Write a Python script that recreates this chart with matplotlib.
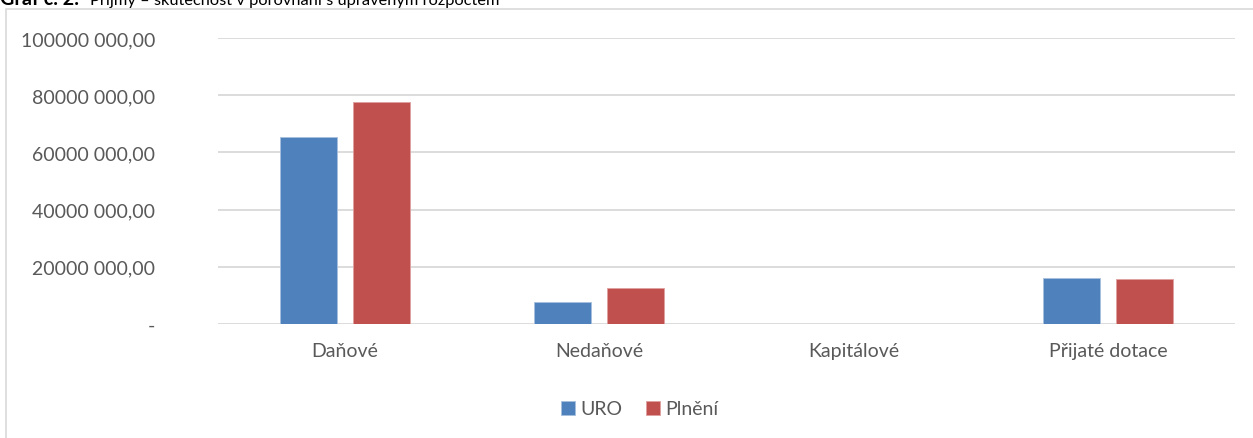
import matplotlib

matplotlib.use("Agg")
import matplotlib.pyplot as plt
import numpy as np
from matplotlib.patches import Rectangle

plt.rcParams['font.family'] = ['Lato', 'DejaVu Sans']

# Data
categories = ["Daňové", "Nedaňové", "Kapitálové", "Přijaté dotace"]
uro = [65400000, 7700000, 0, 16100000]
plneni = [77600000, 12600000, 0, 15700000]
yticks = [0, 20000000, 40000000, 60000000, 80000000, 100000000]
ytick_labels = ["-", "20000 000,00", "40000 000,00", "60000 000,00",
                "80000 000,00", "100000 000,00"]

blue = "#4F81BD"
red = "#C0504D"
txt = "#595959"
grid = "#D9D9D9"

W, H = 1253, 439
fig = plt.figure(figsize=(W / 100, H / 100), dpi=100)
r = fig.canvas.get_renderer()

# chart frame (Excel chart area border)
fig.patches.append(Rectangle((6 / W, -0.1), 1.2, 1.1 - 10 / H, transform=fig.transFigure,
                             fill=False, edgecolor=grid, linewidth=1.2))


def fit_text(xpix, s, target_w, **kw):
    # size a text so that it spans target_w pixels, like in the reference
    t = fig.text(xpix / W, 1 - 5 / H, s, fontsize=12, color="black",
                 va="baseline", ha="left", **kw)
    w = t.get_window_extent(r).width
    t.set_fontsize(12 * target_w / w)
    return t


# title, cut off at the top like in the reference
fit_text(0, "Graf č. 2:", 79, fontweight="bold")
fit_text(90, "Příjmy – skutečnost v porovnání s upraveným rozpočtem", 407)

ax = fig.add_axes([218 / W, 1 - 325 / H, (1235 - 218) / W, (325 - 39) / H])

x = np.arange(len(categories))
width = 0.224
off = 0.1437
ax.bar(x - off, uro, width, color=blue, edgecolor="#A7C0DE", linewidth=0.6,
       label="URO", zorder=3)
ax.bar(x + off, plneni, width, color=red, edgecolor="#E0A09E", linewidth=0.6,
       label="Plnění", zorder=3)

ax.set_xlim(-0.5, len(categories) - 0.5)
ax.set_ylim(0, 100000000)
ax.set_yticks(yticks)
ax.set_yticklabels(ytick_labels)
ax.set_xticks(x)
ax.set_xticklabels(categories)
ax.tick_params(axis="both", length=0, labelsize=14, colors=txt)
ax.tick_params(axis="y", pad=45)
ax.tick_params(axis="x", pad=13)

for s in ax.spines.values():
    s.set_visible(False)
ax.yaxis.grid(True, color=grid, linewidth=1.3, zorder=0)
ax.set_axisbelow(True)

leg = fig.legend(loc="center", bbox_to_anchor=(640 / W, 1 - 410 / H), ncol=2,
                 frameon=False, fontsize=14, handlelength=0.7, handleheight=0.7,
                 handletextpad=0.3, columnspacing=1.2)
for t in leg.get_texts():
    t.set_color(txt)

fig.savefig("out.png", dpi=100)
